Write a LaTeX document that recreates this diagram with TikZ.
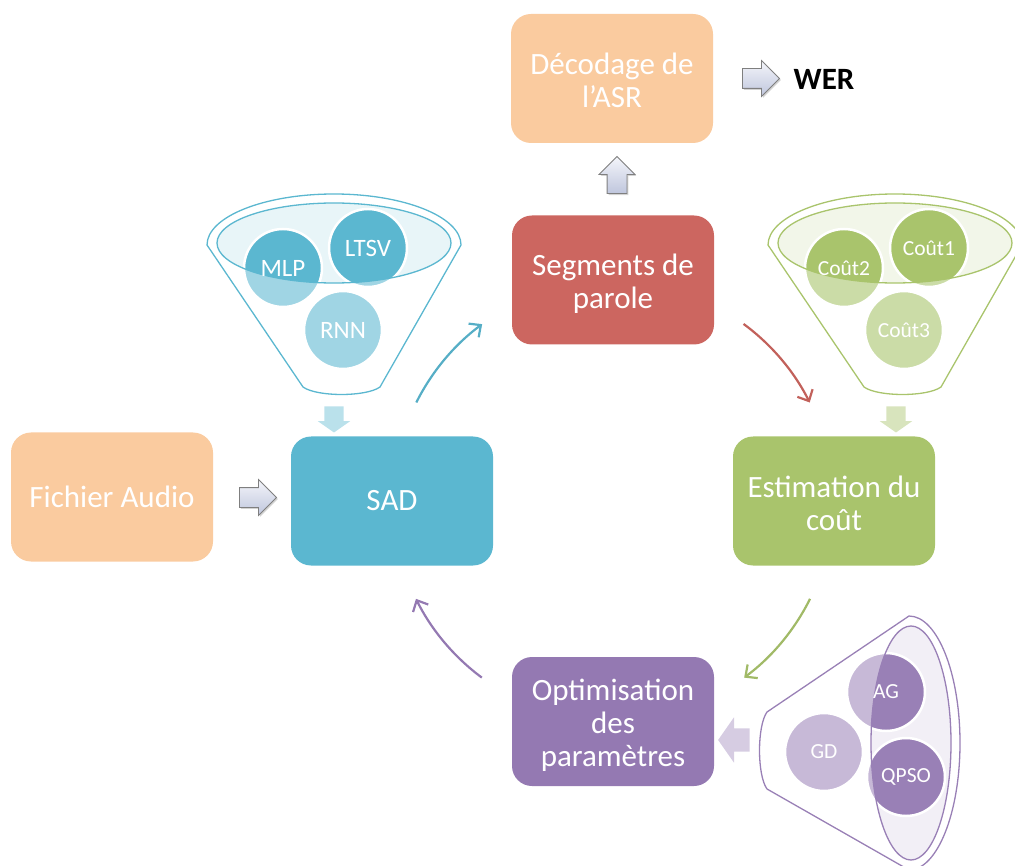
\documentclass[tikz,border=0pt]{standalone}
\usepackage{fontspec}
\setmainfont{Carlito}
\usetikzlibrary{shapes.arrows,shadows,calc,arrows.meta}

\definecolor{peach}{HTML}{FACB9F}
\definecolor{segred}{HTML}{CC6660}
\definecolor{sadblue}{HTML}{5BB7D0}
\definecolor{estgreen}{HTML}{A9C46C}
\definecolor{optpurple}{HTML}{9479B2}
\definecolor{arrowedge}{HTML}{7F7F7F}
\definecolor{arrowtop}{HTML}{F4F5FA}
\definecolor{arrowbot}{HTML}{BFC6DD}

\tikzset{
  stagebox/.style={rounded corners=20pt, minimum width=202pt, minimum height=129pt,
    inner sep=0pt},
  stagetext/.style={inner sep=0pt, text=white, align=center, font=\fontsize{31}{33}\selectfont},
  grayarrow/.style={single arrow, draw=arrowedge, line width=0.8pt,
    top color=arrowtop, bottom color=arrowbot, inner sep=9.5pt,
    single arrow head extend=8pt, minimum height=37pt,
    drop shadow={opacity=0.35, shadow xshift=1.5pt, shadow yshift=-1.5pt}},
  funnelarrow/.style={single arrow, draw=none, inner sep=9.5pt,
    single arrow head extend=6.5pt, single arrow tip angle=110, minimum height=26pt},
  cyclearrow/.style={line width=2.2pt, -{Straight Barb[length=9pt,width=17pt,line width=2.2pt]}},
  fline/.style={draw=fedge, line width=1.3pt},
  fdisc/.style={circle, minimum size=78pt, inner sep=0pt, fill=flight, draw=white, line width=2.5pt},
}

% funnel: outline, pale rim, three discs darker where they fall inside the rim
\newcommand{\funnelbody}[4]{%
  \draw[fline] (-127,2) arc[start angle=180, end angle=360, x radius=127, y radius=51]
     -- (46,144) .. controls (32,154) and (-17,154) .. (-31,144) -- cycle;
  \fill[fpale] (0,0) ellipse[x radius=117, y radius=40];
  \node[fdisc] (#1a) at (-51,25) {};
  \node[fdisc] (#1b) at (34,5) {};
  \node[fdisc] (#1c) at (9,87) {};
  \begin{scope}
    \clip (0,0) ellipse[x radius=117, y radius=40];
    \fill[fdark] (#1a) circle[radius=37.5];
    \fill[fdark] (#1b) circle[radius=37.5];
    \fill[fdark] (#1c) circle[radius=37.5];
  \end{scope}
  \draw[fline] (0,0) ellipse[x radius=117, y radius=40];
  \node[ftext] (#1at) at (#1a) {#2};
  \node[ftext] (#1bt) at (#1b) {#3};
  \node[ftext] (#1ct) at (#1c) {#4};
}

\begin{document}
\begin{tikzpicture}[x=1pt, y=-1pt]
\useasboundingbox (0,0) rectangle (1015,866);
\clip (0,0) rectangle (1015,866);

% stages
\node[stagebox, fill=peach] (dec) at (612,78.5) {};
\node[stagebox, fill=segred] (seg) at (613,280) {};
\node[stagebox, fill=sadblue] (sad) at (392,501) {};
\node[stagebox, fill=peach] (fic) at (112,497) {};
\node[stagebox, fill=estgreen] (est) at (834,501) {};
\node[stagebox, fill=optpurple] (opt) at (613,721.5) {};

\node[stagetext] (dec-t) at ($(dec.center)+(0,1.5)$) {Décodage de\\l’ASR};
\node[stagetext] (seg-t) at ($(seg.center)+(0,4)$) {Segments de\\parole};
\node[stagetext] (sad-t) at (sad.center) {SAD};
\node[stagetext] (fic-t) at (fic.center) {Fichier Audio};
\node[stagetext] (est-t) at ($(est.center)+(0,2)$) {Estimation du\\coût};
\node[stagetext] (opt-t) at ($(opt.center)+(0,3.5)$) {Optimisation\\des\\paramètres};
\node[font=\bfseries\fontsize{31}{33}\selectfont, text=black, inner sep=0pt] (wer) at (824,79) {WER};

% block arrows between stages
\node[grayarrow] (a-wer) at (756,78.5) {};
\node[grayarrow, shape border rotate=90] (a-dec) at (617,180) {};
\node[grayarrow] (a-sad) at (253,497.5) {};

% SAD methods
\colorlet{fedge}{sadblue}\colorlet{fdark}{sadblue}
\colorlet{flight}{sadblue!58}\colorlet{fpale}{sadblue!14}
\begin{scope}[shift={(334,243)}, ftext/.style={text=white, font=\fontsize{25}{25}\selectfont}]
  \funnelbody{s}{MLP}{LTSV}{RNN}
\end{scope}
\node[funnelarrow, fill=sadblue!42, shape border rotate=270] (s-out) at (334,416) {};

% cost functions
\colorlet{fedge}{estgreen}\colorlet{fdark}{estgreen}
\colorlet{flight}{estgreen!60}\colorlet{fpale}{estgreen!15}
\begin{scope}[shift={(895,243)}, ftext/.style={text=white, font=\fontsize{21.5}{22}\selectfont}]
  \funnelbody{c}{Coût2}{Coût1}{Coût3}
\end{scope}
\node[funnelarrow, fill=estgreen!45, shape border rotate=270] (c-out) at (896,416) {};

% optimisation algorithms
\colorlet{fedge}{optpurple!95!white}\colorlet{fdark}{optpurple!95!white}
\colorlet{flight}{optpurple!52}\colorlet{fpale}{optpurple!12}
\begin{scope}[shift={(911,743)}, rotate=-90, ftext/.style={text=white, font=\fontsize{21.5}{22}\selectfont}]
  \funnelbody{o}{AG}{QPSO}{GD}
\end{scope}
\node[funnelarrow, fill=optpurple!38, shape border rotate=180, inner sep=11.5pt,
      single arrow head extend=11pt, minimum height=31pt] (o-out) at (738,740) {};

% optimisation loop
\coordinate (loop) at (613,501);
\coordinate (l1) at ($(loop)+(-153.4:220)$);
\coordinate (l2) at ($(loop)+(-53.6:220)$);
\coordinate (l3) at ($(loop)+(26.4:220)$);
\coordinate (l4) at ($(loop)+(126.6:220)$);
\draw[cyclearrow, draw=sadblue!95!black] (l1) arc[start angle=-153.4, end angle=-126.5, radius=220];
\draw[cyclearrow, draw=segred!95!black] (l2) arc[start angle=-53.6, end angle=-26.6, radius=220];
\draw[cyclearrow, draw=estgreen!95!black] (l3) arc[start angle=26.4, end angle=53.4, radius=220];
\draw[cyclearrow, draw=optpurple] (l4) arc[start angle=126.6, end angle=153.6, radius=220];
\end{tikzpicture}
\end{document}
